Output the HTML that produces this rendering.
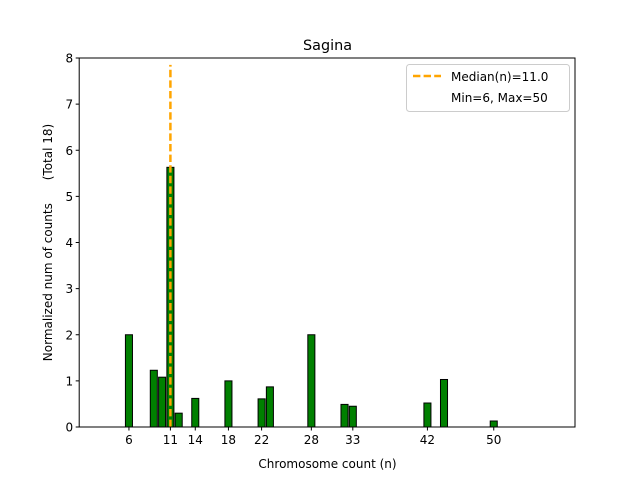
<!DOCTYPE html>
<html><head><meta charset="utf-8"><style>
body{margin:0;background:#fff;}
svg text{font-family:"DejaVu Sans","Liberation Sans",sans-serif;fill:#000;}
</style></head><body>
<svg id="chart" width="640" height="480" xmlns="http://www.w3.org/2000/svg">
<rect width="640" height="480" fill="#fff"/>
<g id="bars"></g>
<g id="axes"></g>
<text x="327.5" y="50" font-size="14.4" text-anchor="middle">Sagina</text>
<text x="327.5" y="468" font-size="12" text-anchor="middle">Chromosome count (n)</text>
<text transform="translate(52,242.5) rotate(-90)" font-size="12" text-anchor="middle" style="white-space:pre">Normalized num of counts      (Total 18)</text>
<g>
<rect x="406.5" y="64.5" width="163" height="47" rx="3" fill="#fff" stroke="#ccc"/>
<line x1="413" y1="76" x2="441" y2="76" stroke="orange" stroke-width="2.5" stroke-dasharray="7.4,3.2"/>
<text x="451" y="81" font-size="12">Median(n)=11.0</text>
<text x="451" y="102" font-size="12">Min=6, Max=50</text>
</g>
</svg>
<script>
const categories=[6,9,10,11,12,14,18,22,23,28,32,33,42,44,50];
const values=[2.0,1.23,1.08,5.63,0.30,0.62,1.0,0.61,0.87,2.0,0.49,0.45,0.52,1.03,0.13];
const xTicks=[6,11,14,18,22,28,33,42,50];
const yTicks=[0,1,2,3,4,5,6,7,8];
const median=11.0;
const NS='http://www.w3.org/2000/svg';
const L=79.2,R=575,T=58,B=427,xmin=0,xmax=59.8,ymin=0,ymax=8;
const xs=v=>L+(v-xmin)/(xmax-xmin)*(R-L);
const ys=v=>B-(v-ymin)/(ymax-ymin)*(B-T);
function mk(tag,attrs,parent){const e=document.createElementNS(NS,tag);for(const k in attrs)e.setAttribute(k,attrs[k]);parent.appendChild(e);return e;}
const bars=document.getElementById('bars'),axes=document.getElementById('axes');
const bw=0.85;
categories.forEach((c,i)=>{
  const r=mk('rect',{x:xs(c-bw/2),y:ys(values[i]),width:xs(c+bw/2)-xs(c-bw/2),height:ys(0)-ys(values[i]),fill:'green',stroke:'#000','stroke-width':1},bars);
  
  
});
const ml=mk('line',{x1:xs(median),x2:xs(median),y1:ys(0),y2:ys(7.85),stroke:'orange','stroke-width':2.5,'stroke-dasharray':'7.4,3.2'},bars);


const fr=mk('rect',{x:L,y:T,width:R-L,height:B-T,fill:'none',stroke:'#000','stroke-width':1},axes);


xTicks.forEach(t=>{
  const x=xs(t);
  mk('line',{x1:x,x2:x,y1:B,y2:B+3.5,stroke:'#000'},axes);
  const tx=mk('text',{x:x,y:B+17,'font-size':12,'text-anchor':'middle'},axes);
  tx.textContent=t;
  
  
});
yTicks.forEach(t=>{
  const y=ys(t);
  mk('line',{x1:L-3.5,x2:L,y1:y,y2:y,stroke:'#000'},axes);
  const tx=mk('text',{x:L-6,y:y+4.5,'font-size':12,'text-anchor':'end'},axes);
  tx.textContent=t;
  
  
});
</script>
</body></html>
